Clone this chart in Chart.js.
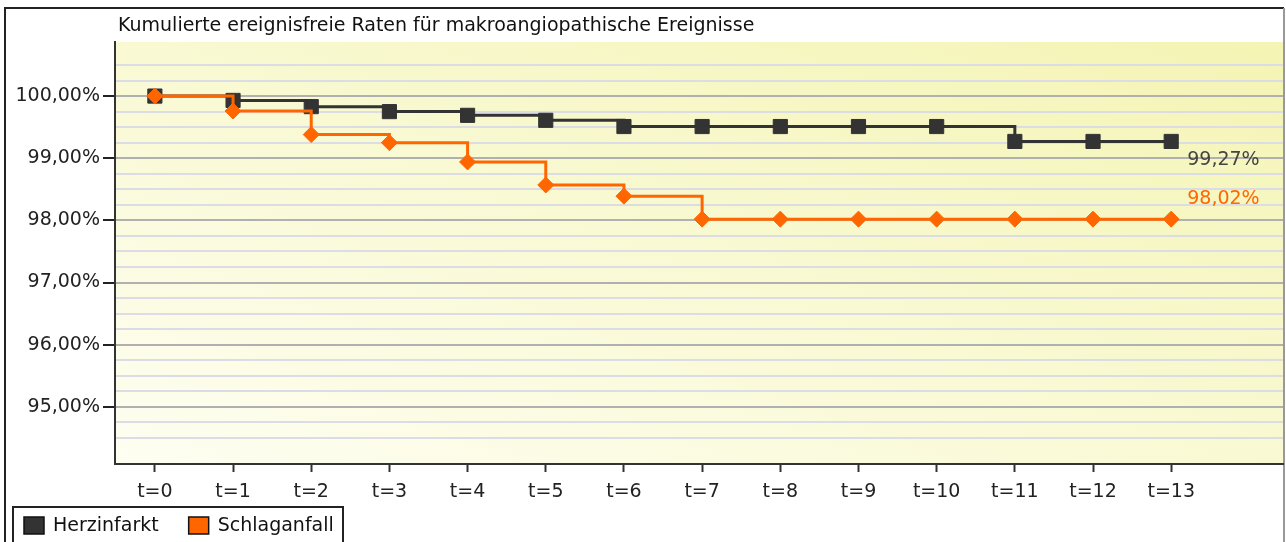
<!DOCTYPE html>
<html>
<head>
<meta charset="utf-8">
<script src="https://cdn.jsdelivr.net/npm/chart.js@4.4.1/dist/chart.umd.min.js"></script>
<style>
  html, body { margin: 0; padding: 0; background: #fff; }
  canvas { display: block; }
</style>
</head>
<body>
<canvas id="chart" width="1286" height="542"></canvas>
<script>
const categories = ["t=0", "t=1", "t=2", "t=3", "t=4", "t=5", "t=6", "t=7", "t=8", "t=9", "t=10", "t=11", "t=12", "t=13"]
const herzinfarkt = [100, 99.93, 99.83, 99.75, 99.69, 99.61, 99.51, 99.51, 99.51, 99.51, 99.51, 99.27, 99.27, 99.27]
const schlaganfall = [100, 99.76, 99.38, 99.25, 98.94, 98.57, 98.39, 98.02, 98.02, 98.02, 98.02, 98.02, 98.02, 98.02]
const seriesLabels = ["Herzinfarkt", "Schlaganfall"]
const yMin = 94.08
const yMax = 100.87
const xMin = -0.51
const xMax = 14.43
const title = "Kumulierte ereignisfreie Raten für makroangiopathische Ereignisse"

const DARK = "#333333"
const ORANGE = "#ff6600"
const FONT = "'DejaVu Sans', sans-serif"
const SIZE = 19

Chart.defaults.font.family = FONT
Chart.defaults.font.size = SIZE
Chart.defaults.color = "#222"

const pct = (v) => v.toFixed(2).replace(".", ",") + "%"
const isStep = (v, n) => Math.abs(v * n - Math.round(v * n)) < 1e-6

const toPoints = (values) => values.map((y, x) => ({ x, y }))

// Rahmen, Hintergrundverlauf, Titel, Endwerte und Legende
const decorations = {
  id: "decorations",
  beforeDraw: (chart) => {
    const { ctx, chartArea: a } = chart
    const w = a.right - a.left
    const h = a.bottom - a.top
    ctx.save()
    ctx.fillStyle = "#fff"
    ctx.fillRect(0, 0, chart.width, chart.height)

    // Verlauf so, dass oben links und unten rechts gleich hell sind
    const k = (2 * w * h) / (w * w + h * h)
    const g = ctx.createLinearGradient(a.left, a.bottom, a.left + h * k, a.bottom - w * k)
    g.addColorStop(0, "#fefef2")
    g.addColorStop(1, "#f4f4b4")
    ctx.fillStyle = g
    ctx.fillRect(a.left, a.top, w, h)

    ctx.strokeStyle = "#222"
    ctx.lineWidth = 2
    ctx.beginPath()
    ctx.moveTo(5, 560)
    ctx.lineTo(5, 8)
    ctx.lineTo(1284, 8)
    ctx.stroke()
    ctx.strokeStyle = "#999"
    ctx.beginPath()
    ctx.moveTo(1284, 8)
    ctx.lineTo(1284, 560)
    ctx.stroke()
    ctx.restore()
  },
  afterDatasetsDraw: (chart) => {
    const { ctx } = chart
    ctx.save()
    ctx.font = `${SIZE}px ${FONT}`
    ctx.textBaseline = "middle"
    ctx.textAlign = "left"
    const offsets = [19, -20]
    chart.data.datasets.forEach((ds, i) => {
      const meta = chart.getDatasetMeta(i)
      const last = meta.data[meta.data.length - 1]
      const value = ds.data[ds.data.length - 1].y
      ctx.fillStyle = i === 0 ? "#444" : ORANGE
      ctx.fillText(pct(value), last.x + 16, last.y + offsets[i])
    })
    ctx.restore()
  },
  afterDraw: (chart) => {
    const { ctx, chartArea: a } = chart
    ctx.save()
    ctx.fillStyle = "#111"
    ctx.font = `${SIZE}px ${FONT}`
    ctx.textBaseline = "middle"
    ctx.fillText(title, a.left + 3, 26)

    // Legende unten links
    ctx.strokeStyle = "#222"
    ctx.lineWidth = 2
    ctx.strokeRect(13, 507, 330, 60)
    let x = 24
    chart.data.datasets.forEach((ds) => {
      ctx.fillStyle = ds.borderColor
      ctx.fillRect(x, 517, 20, 17)
      ctx.lineWidth = 1.5
      ctx.strokeStyle = "#111"
      ctx.strokeRect(x, 517, 20, 17)
      ctx.fillStyle = "#111"
      ctx.fillText(ds.label, x + 29, 526)
      x += 29 + ctx.measureText(ds.label).width + 30
    })
    ctx.restore()
  }
}

new Chart(document.getElementById("chart"), {
  type: "line",
  data: {
    datasets: [
      {
        label: seriesLabels[0],
        data: toPoints(herzinfarkt),
        borderColor: DARK,
        backgroundColor: DARK,
        borderWidth: 3,
        stepped: "before",
        pointStyle: "rect",
        pointRadius: 10,
        pointBorderWidth: 1,
        order: 1
      },
      {
        label: seriesLabels[1],
        data: toPoints(schlaganfall),
        borderColor: ORANGE,
        backgroundColor: ORANGE,
        borderWidth: 3,
        stepped: "before",
        pointStyle: "rectRot",
        pointRadius: 8,
        pointBorderWidth: 1,
        order: 0
      }
    ]
  },
  options: {
    responsive: false,
    animation: false,
    devicePixelRatio: 1,
    layout: { autoPadding: false, padding: { left: 0, top: 42, right: 3, bottom: 0 } },
    plugins: {
      legend: { display: false },
      title: { display: false },
      tooltip: { enabled: false }
    },
    scales: {
      x: {
        type: "linear",
        min: xMin,
        max: xMax,
        afterFit: (scale) => {
          scale.height = 78
          scale.paddingLeft = 0
          scale.paddingRight = 0
        },
        afterBuildTicks: (scale) => { scale.ticks = categories.map((_, i) => ({ value: i })) },
        border: { display: true, color: "#333", width: 2 },
        grid: { drawOnChartArea: false, drawTicks: true, tickLength: 8, tickColor: "#333", tickWidth: 2 },
        ticks: {
          autoSkip: false,
          maxRotation: 0,
          padding: 9,
          color: "#222",
          callback: (v) => categories[v]
        }
      },
      y: {
        min: yMin,
        max: yMax,
        afterFit: (scale) => {
          scale.width = 115
          scale.paddingTop = 0
          scale.paddingBottom = 0
        },
        border: { display: true, color: "#333", width: 2 },
        grid: {
          color: (c) => isStep(c.tick.value, 1) ? "#b0b0b0" : isStep(c.tick.value, 4) ? "#dcdce4" : "rgba(0,0,0,0)",
          lineWidth: 2,
          tickLength: 12,
          tickWidth: 2,
          tickColor: (c) => isStep(c.tick.value, 1) ? "#222" : "rgba(0,0,0,0)"
        },
        ticks: {
          stepSize: 0.25,
          autoSkip: false,
          padding: 3,
          color: "#222",
          callback: (v) => isStep(v, 1) ? pct(v) : ""
        }
      }
    }
  },
  plugins: [decorations]
})
</script>
</body>
</html>
